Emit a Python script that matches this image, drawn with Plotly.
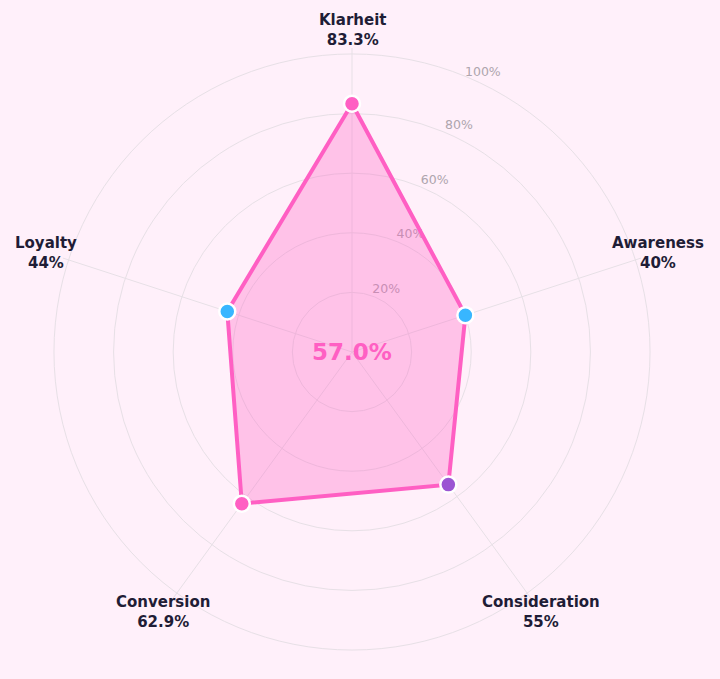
import math
import plotly.graph_objects as go

categories = ["Klarheit", "Awareness", "Consideration", "Conversion", "Loyalty"]
values = [83.3, 40, 55, 62.9, 44]
value_labels = ["83.3%", "40%", "55%", "62.9%", "44%"]
marker_colors = ["#ff5fc3", "#38b6ff", "#9b55d3", "#ff5fc3", "#38b6ff"]
radial_ticks = [20, 40, 60, 80, 100]
radial_ticktext = ["20%", "40%", "60%", "80%", "100%"]
average = sum(values) / len(values)

BG = "#fff0fa"
PINK = "#ff5fc3"
DARK = "#1f1d36"
GRID = "#e7e0e6"
TICK_COLOR = "#aea5ad"
R_MAX = 102          # radial range upper bound
LABEL_R = 108        # radial position of category labels (data units)
DOMAIN_PX = 608      # polar domain size in px (720 - 48 - 64)
PX_PER_UNIT = DOMAIN_PX / 2 / R_MAX
TICK_AXIS_DEG = 66   # screen angle of the radial tick label line
TICK_SHIFT = (10, 8) # px offset (right, up) of the tick labels from that line

n = len(categories)
thetas = [i * 360 / n for i in range(n)]

# radial tick labels, placed through the polar scale (below the data layer);
# labels that fall outside the radial range become paper annotations
tick_r, tick_theta, tick_txt, outer_ticks = [], [], [], []
for v, t in zip(radial_ticks, radial_ticktext):
    px = v * PX_PER_UNIT * math.cos(math.radians(TICK_AXIS_DEG)) + TICK_SHIFT[0]
    py = v * PX_PER_UNIT * math.sin(math.radians(TICK_AXIS_DEG)) + TICK_SHIFT[1]
    r_lab = math.hypot(px, py) / PX_PER_UNIT
    if r_lab < R_MAX:
        tick_r.append(r_lab)
        tick_theta.append(90 - math.degrees(math.atan2(py, px)))
        tick_txt.append(t)
    else:
        outer_ticks.append((px, py, t))

fig = go.Figure()
fig.add_trace(go.Scatterpolar(
    r=tick_r, theta=tick_theta, mode="text",
    text=tick_txt, textposition="middle center",
    textfont=dict(size=12.5, color=TICK_COLOR, family="DejaVu Sans"),
    hoverinfo="skip", showlegend=False,
))
fig.add_trace(go.Scatterpolar(
    r=values + [values[0]],
    theta=thetas + [thetas[0]],
    mode="lines",
    line=dict(color=PINK, width=4),
    fill="toself",
    fillcolor="rgba(255,95,195,0.32)",
    hoverinfo="skip",
    showlegend=False,
))
fig.add_trace(go.Scatterpolar(
    r=values,
    theta=thetas,
    mode="markers",
    marker=dict(size=16, color=marker_colors, line=dict(color="white", width=2.5)),
    text=categories,
    showlegend=False,
))

annotations = []
for px, py, t in outer_ticks:
    annotations.append(dict(
        text=t, x=0.5 + px / DOMAIN_PX, y=0.5 + py / DOMAIN_PX,
        xref="paper", yref="paper", xanchor="center", yanchor="middle",
        showarrow=False, font=dict(size=12.5, color=TICK_COLOR),
    ))

# category labels as centred annotations around the polar domain
for i, (c, v) in enumerate(zip(categories, value_labels)):
    ang = math.radians(90 - thetas[i])
    frac = LABEL_R / R_MAX * 0.5
    annotations.append(dict(
        text=f"<b>{c}</b><br><b>{v}</b>",
        x=0.5 + frac * math.cos(ang), y=0.5 + frac * math.sin(ang),
        xref="paper", yref="paper", xanchor="center", yanchor="middle",
        showarrow=False, align="center",
        font=dict(size=15, color=DARK),
    ))
annotations.append(dict(
    text=f"<b>{average:.1f}%</b>",
    x=0.5, y=0.5, xref="paper", yref="paper",
    xanchor="center", yanchor="middle",
    showarrow=False,
    font=dict(size=23, color=PINK),
))

fig.update_layout(
    width=720, height=679,
    paper_bgcolor=BG,
    plot_bgcolor=BG,
    margin=dict(l=48, r=64, t=48, b=23),
    font=dict(family="DejaVu Sans", color=DARK),
    polar=dict(
        bgcolor=BG,
        domain=dict(x=[0, 1], y=[0, 1]),
        radialaxis=dict(
            range=[0, R_MAX],
            tickvals=radial_ticks,
            showticklabels=False,
            showline=False,
            ticks="",
            gridcolor=GRID,
            gridwidth=1.4,
            layer="below traces",
        ),
        angularaxis=dict(
            type="linear",
            thetaunit="degrees",
            rotation=90,
            direction="clockwise",
            tickvals=thetas,
            showticklabels=False,
            gridcolor=GRID,
            gridwidth=1.4,
            showline=False,
            ticks="",
            layer="below traces",
        ),
    ),
    annotations=annotations,
)

fig.write_html("out.html")
